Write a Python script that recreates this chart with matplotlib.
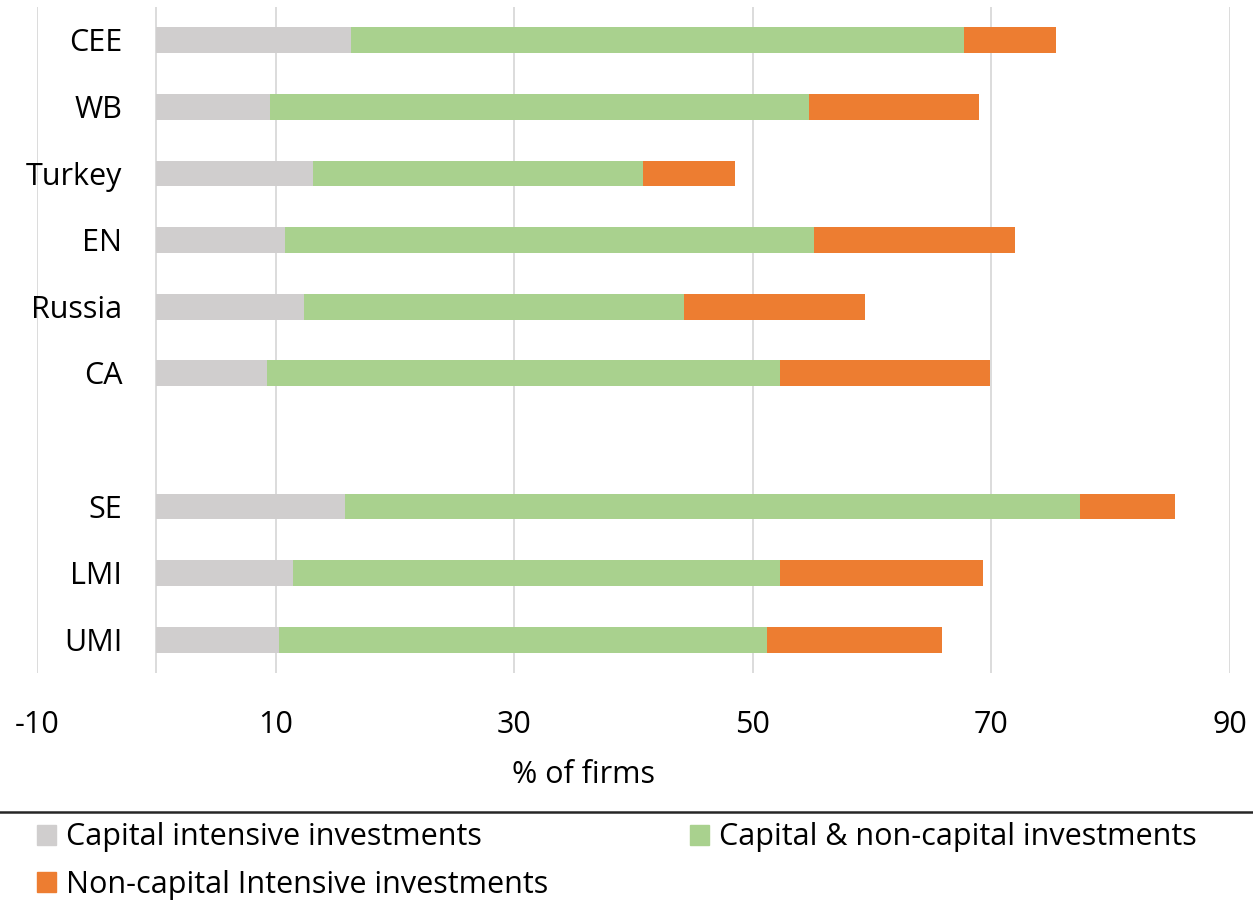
import matplotlib
matplotlib.use("Agg")
import matplotlib.pyplot as plt
from matplotlib.patches import Rectangle
from matplotlib.lines import Line2D
from matplotlib.transforms import ScaledTranslation

plt.rcParams['font.family'] = ['Open Sans', 'DejaVu Sans']

# Region groups (blank entry leaves a gap between the two groups)
categories = ["CEE", "WB", "Turkey", "EN", "Russia", "CA", "", "SE", "LMI", "UMI"]

# Share of firms (%) by investment type
capital_intensive = [16.3, 9.5, 13.1, 10.8, 12.4, 9.3, 0, 15.8, 11.5, 10.3]
capital_and_noncapital = [51.4, 45.2, 27.7, 44.3, 31.8, 43.0, 0, 61.6, 40.8, 40.9]
noncapital_intensive = [7.7, 14.3, 7.7, 16.9, 15.2, 17.6, 0, 8.0, 17.0, 14.7]

series_names = ["Capital intensive investments",
                "Capital & non-capital investments",
                "Non-capital Intensive investments"]
series_colors = ["#D0CECE", "#A9D18E", "#ED7D31"]

x_ticks = [-10, 10, 30, 50, 70, 90]
x_label = "% of firms"

FS = 22
W, H, DPI = 1253, 901, 100
fig = plt.figure(figsize=(W / DPI, H / DPI), dpi=DPI)
ax = fig.add_axes([37 / W, 1 - 673 / H, (1230 - 37) / W, (673 - 7) / H])

ypos = list(range(len(categories)))
left = [0.0] * len(categories)
for vals, name, col in zip([capital_intensive, capital_and_noncapital, noncapital_intensive],
                           series_names, series_colors):
    ax.barh(ypos, vals, left=left, height=0.39, color=col, label=name,
            linewidth=0, zorder=3)
    left = [a + b for a, b in zip(left, vals)]

ax.set_xlim(-10, 90)
ax.set_ylim(len(categories) - 0.5, -0.5)
ax.set_xticks(x_ticks)
ax.set_xticklabels([str(t) for t in x_ticks], fontsize=FS)
ax.tick_params(axis="x", length=0, pad=26.5)
ax.set_yticks([])
ax.grid(axis="x", color="#D9D9D9", linewidth=1.3, zorder=0)
ax.axvline(0, color="#D9D9D9", linewidth=1.3, zorder=1)
for s in ax.spines.values():
    s.set_visible(False)

# Category labels sit next to the zero line
lab_tr = ax.transData + ScaledTranslation(-34 / DPI, -3 / DPI, fig.dpi_scale_trans)
for y, c in zip(ypos, categories):
    if c:
        ax.text(0, y, c, transform=lab_tr, ha="right", va="center", fontsize=FS)

fig.text(583 / W, 1 - 775 / H, x_label, ha="center", va="center", fontsize=FS)

# Separator above legend
fig.add_artist(Line2D([0, 1], [1 - 812 / H, 1 - 812 / H], color="#262626",
                      linewidth=1.8, transform=fig.transFigure))

# Legend
legend_pos = [(37, 835), (690, 835), (37, 882)]
for (lx, ly), name, col in zip(legend_pos, series_names, series_colors):
    fig.add_artist(Rectangle((lx / W, 1 - (ly + 10) / H), 19 / W, 20 / H,
                             color=col, transform=fig.transFigure))
    fig.text((lx + 29) / W, 1 - (ly + 2.5) / H, name, ha="left", va="center",
             fontsize=FS)

fig.savefig("out.png", dpi=DPI)
